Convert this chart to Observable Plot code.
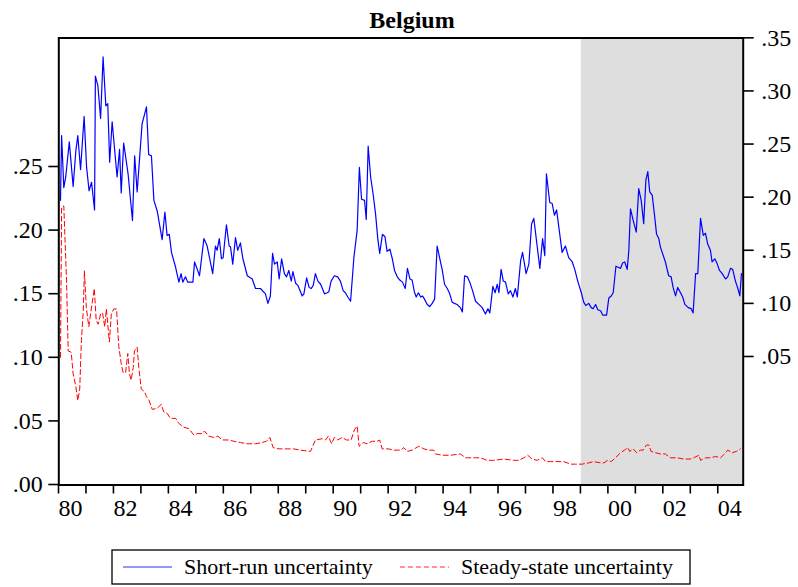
<!DOCTYPE html>
<html><head><meta charset="utf-8">
<script src="https://cdn.jsdelivr.net/npm/d3@7"></script>
<script src="https://cdn.jsdelivr.net/npm/@observablehq/plot@0.6"></script>
<style>
html,body{margin:0;padding:0;background:#fff;}
#wrap{position:relative;width:798px;height:587px;font-family:"Liberation Serif","Times New Roman",serif;}
#chart{position:absolute;left:0;top:0;}
#legend{position:absolute;left:0;top:540px;}
#chart svg text{font-family:"Liberation Serif","Times New Roman",serif !important;font-variant:normal !important;font-variant-numeric:normal !important;}
</style></head><body>
<div id="wrap"><div id="chart"></div>
<svg id="legend" width="798" height="47" font-family="Liberation Serif, Times New Roman, serif">
  <rect x="112" y="10" width="578" height="34" fill="none" stroke="#000" stroke-width="1.3"></rect>
  <line x1="123" x2="172" y1="27" y2="27" stroke="#0000ff" stroke-opacity="0.55" stroke-width="1.6"></line>
  <text x="184" y="34" font-size="22" fill="#000">Short-run uncertainty</text>
  <line x1="400" x2="449" y1="27" y2="27" stroke="#ff0000" stroke-opacity="0.55" stroke-width="1.6" stroke-dasharray="5,3"></line>
  <text x="461" y="34" font-size="22" fill="#000">Steady-state uncertainty</text>
</svg>
</div>
<script>
// ---- Data ----
const title = "Belgium";
const shortRunYears = [1980.00,1980.04,1980.12,1980.19,1980.32,1980.46,1980.56,1980.63,1980.73,1980.86,1980.95,1981.04,1981.13,1981.24,1981.27,1981.36,1981.46,1981.55,1981.65,1981.72,1981.79,1981.88,1982.06,1982.15,1982.21,1982.30,1982.46,1982.62,1982.70,1982.79,1982.97,1983.13,1983.21,1983.31,1983.40,1983.52,1983.70,1983.80,1983.88,1983.96,1984.04,1984.19,1984.31,1984.39,1984.45,1984.55,1984.63,1984.82,1984.88,1984.98,1985.06,1985.22,1985.34,1985.54,1985.64,1985.70,1985.78,1985.86,1985.92,1986.04,1986.14,1986.19,1986.27,1986.37,1986.45,1986.55,1986.64,1986.80,1986.98,1987.10,1987.28,1987.46,1987.55,1987.64,1987.72,1987.79,1987.89,1987.96,1988.05,1988.15,1988.23,1988.31,1988.40,1988.46,1988.56,1988.64,1988.80,1988.86,1988.96,1989.05,1989.13,1989.20,1989.28,1989.37,1989.47,1989.61,1989.71,1989.77,1989.85,1989.97,1990.09,1990.19,1990.29,1990.37,1990.46,1990.56,1990.68,1990.80,1990.88,1990.96,1991.07,1991.13,1991.20,1991.29,1991.38,1991.47,1991.55,1991.62,1991.72,1991.81,1991.89,1991.99,1992.08,1992.16,1992.26,1992.35,1992.45,1992.55,1992.63,1992.72,1992.80,1992.88,1992.95,1993.03,1993.11,1993.18,1993.25,1993.35,1993.44,1993.53,1993.62,1993.71,1993.81,1993.90,1993.98,1994.08,1994.17,1994.26,1994.34,1994.44,1994.51,1994.56,1994.63,1994.71,1994.81,1994.90,1995.00,1995.11,1995.23,1995.35,1995.47,1995.56,1995.63,1995.74,1995.82,1995.90,1995.96,1996.04,1996.12,1996.20,1996.30,1996.38,1996.47,1996.56,1996.63,1996.75,1996.82,1996.95,1997.05,1997.15,1997.23,1997.45,1997.55,1997.63,1997.69,1997.81,1997.90,1997.98,1998.06,1998.14,1998.26,1998.38,1998.50,1998.63,1998.72,1998.83,1998.96,1999.05,1999.12,1999.23,1999.32,1999.39,1999.48,1999.56,1999.66,1999.74,1999.88,1999.96,2000.05,2000.12,2000.22,2000.30,2000.39,2000.46,2000.54,2000.63,2000.69,2000.75,2000.85,2000.96,2001.05,2001.14,2001.23,2001.31,2001.38,2001.45,2001.54,2001.62,2001.70,2001.78,2001.84,2002.02,2002.14,2002.23,2002.30,2002.39,2002.47,2002.57,2002.65,2002.73,2002.85,2002.96,2003.03,2003.12,2003.20,2003.30,2003.40,2003.48,2003.56,2003.66,2003.72,2003.82,2003.91,2003.99,2004.09,2004.21,2004.29,2004.39,2004.47,2004.57,2004.66,2004.73,2004.79];
const shortRunValues = [.197,.258,.209,.219,.252,.210,.244,.258,.226,.276,.228,.206,.214,.188,.314,.305,.274,.332,.286,.288,.233,.271,.219,.245,.204,.251,.222,.178,.239,.205,.269,.285,.240,.239,.197,.187,.160,.186,.164,.165,.148,.134,.120,.128,.120,.125,.120,.120,.139,.132,.126,.161,.154,.128,.154,.150,.161,.142,.143,.174,.154,.153,.137,.162,.150,.157,.142,.126,.123,.114,.114,.109,.100,.107,.147,.137,.139,.123,.142,.128,.125,.131,.121,.130,.119,.117,.107,.109,.124,.115,.114,.117,.128,.121,.118,.109,.110,.111,.121,.126,.125,.121,.112,.110,.106,.102,.143,.169,.228,.198,.197,.179,.248,.219,.203,.184,.161,.147,.165,.163,.149,.151,.142,.131,.125,.122,.120,.114,.133,.123,.122,.111,.106,.110,.106,.107,.104,.099,.097,.100,.104,.154,.142,.131,.118,.114,.109,.101,.100,.099,.097,.096,.092,.126,.125,.120,.112,.102,.099,.096,.090,.095,.091,.116,.110,.118,.110,.132,.121,.120,.109,.112,.106,.114,.106,.140,.148,.128,.137,.175,.180,.133,.161,.145,.222,.195,.194,.183,.188,.172,.148,.154,.143,.139,.132,.121,.110,.101,.098,.100,.096,.095,.099,.094,.093,.089,.089,.105,.107,.110,.135,.134,.133,.138,.139,.132,.150,.189,.178,.167,.208,.197,.175,.216,.224,.205,.202,.184,.165,.161,.153,.139,.126,.125,.115,.107,.115,.110,.106,.099,.096,.095,.091,.128,.128,.180,.164,.166,.156,.150,.139,.142,.137,.131,.128,.123,.125,.133,.132,.121,.114,.107,.128];
const steadyYears = [1980.00,1980.04,1980.12,1980.22,1980.28,1980.39,1980.46,1980.55,1980.63,1980.70,1980.76,1980.83,1980.87,1980.94,1981.03,1981.12,1981.23,1981.30,1981.37,1981.46,1981.53,1981.61,1981.67,1981.72,1981.78,1981.85,1981.94,1982.04,1982.12,1982.21,1982.28,1982.37,1982.45,1982.51,1982.57,1982.65,1982.69,1982.79,1982.85,1982.94,1983.06,1983.13,1983.21,1983.34,1983.52,1983.67,1983.76,1983.88,1984.00,1984.19,1984.31,1984.49,1984.67,1984.85,1984.98,1985.16,1985.24,1985.40,1985.58,1985.73,1985.89,1986.13,1986.31,1986.55,1986.80,1987.10,1987.34,1987.50,1987.62,1987.74,1987.95,1988.25,1988.49,1988.74,1989.10,1989.28,1989.53,1989.65,1989.75,1989.87,1989.97,1990.09,1990.25,1990.41,1990.58,1990.70,1990.80,1990.87,1991.02,1991.16,1991.35,1991.53,1991.62,1991.71,1991.95,1992.13,1992.38,1992.50,1992.62,1992.80,1993.04,1993.23,1993.41,1993.59,1993.65,1993.90,1994.20,1994.56,1994.74,1995.05,1995.29,1995.53,1995.77,1996.14,1996.50,1996.68,1996.87,1997.01,1997.17,1997.35,1997.54,1997.66,1997.84,1998.08,1998.32,1998.57,1998.75,1998.99,1999.23,1999.41,1999.66,1999.78,1999.92,2000.05,2000.20,2000.39,2000.53,2000.65,2000.72,2000.85,2000.97,2001.11,2001.21,2001.33,2001.42,2001.50,2001.66,2001.84,2002.02,2002.20,2002.45,2002.69,2002.93,2003.05,2003.24,2003.30,2003.48,2003.66,2003.85,2004.03,2004.17,2004.29,2004.45,2004.61,2004.75];
const steadyValues = [.100,.218,.219,.160,.105,.104,.087,.078,.066,.075,.113,.137,.168,.139,.124,.138,.154,.129,.126,.134,.135,.124,.138,.126,.112,.134,.138,.138,.109,.095,.088,.088,.103,.087,.082,.092,.105,.108,.092,.075,.073,.069,.067,.059,.060,.063,.057,.056,.052,.052,.048,.045,.044,.039,.040,.040,.042,.038,.037,.038,.035,.035,.034,.033,.032,.032,.033,.034,.037,.029,.028,.028,.028,.027,.026,.035,.036,.035,.038,.032,.037,.035,.037,.035,.035,.043,.046,.030,.033,.032,.034,.034,.035,.028,.028,.027,.027,.029,.026,.027,.030,.028,.027,.027,.024,.023,.023,.024,.021,.021,.021,.019,.019,.020,.019,.019,.021,.023,.020,.019,.021,.018,.018,.018,.018,.016,.016,.016,.017,.018,.017,.017,.019,.018,.021,.025,.027,.029,.026,.028,.025,.027,.027,.031,.031,.026,.025,.024,.024,.021,.021,.020,.020,.021,.023,.019,.021,.021,.022,.021,.024,.027,.025,.026,.028];
const shadeStart = 1998.96;
const xStart = 1979.938, xEnd = 2004.853;
const tickYears = d3.range(1980, 2005);
const leftTicks = [0, .05, .10, .15, .20, .25];
const rightTicks = [.05, .10, .15, .20, .25, .30, .35];

// ---- Dual-axis mapping (right axis values -> left scale units) ----
const toLeft = r => (484 - (409.1 - 1062.2 * r)) / 1272;
const fromLeft = l => (409.1 - (484 - 1272 * l)) / 1062.2;
const yLo = (484 - 484.5) / 1272, yHi = (484 - 37.5) / 1272;
const fmt = v => d3.format(".2f")(Math.abs(v) < 1e-6 ? 0 : v).replace(/^0/, "");

const shortRun = shortRunYears.map((t, i) => ({t, y: toLeft(shortRunValues[i])}));
const steady = steadyYears.map((t, i) => ({t, y: steadyValues[i]}));
const shade = [{x1: shadeStart, x2: xEnd, y1: yLo, y2: yHi}];

const serif = "Liberation Serif, Times New Roman, serif";
const W = 798, H = 540;
const chart = Plot.plot({
  width: W, height: H,
  marginLeft: 58.3, marginRight: W - 742.7, marginTop: 37.5, marginBottom: H - 484.5,
  style: {fontFamily: serif, fontSize: "22px", color: "#000", background: "#fff"},
  x: {domain: [xStart, xEnd], label: null},
  y: {domain: [yLo, yHi], label: null},
  marks: [
    Plot.rect(shade, {x1: "x1", x2: "x2", y1: "y1", y2: "y2", fill: "#dedede"}),
    Plot.line(shortRun, {x: "t", y: "y", stroke: "#0000ff", strokeWidth: 1.2}),
    Plot.line(steady, {x: "t", y: "y", stroke: "#ff0000", strokeWidth: 1, strokeDasharray: "5,3"}),
    Plot.frame({stroke: "#000", strokeWidth: 2}),
    Plot.axisX(tickYears, {anchor: "bottom", tickSize: 9, tickPadding: 5, textAnchor: "start", dx: -2, fontSize: 24, fontFamily: serif, strokeWidth: 1.6, label: null,
      tickFormat: d => d % 2 === 0 ? String(d).slice(2) : ""}),
    Plot.axisY(leftTicks, {anchor: "left", tickSize: 10, tickPadding: 6, fontSize: 24, fontFamily: serif, strokeWidth: 1.6, label: null, tickFormat: fmt}),
    Plot.axisY(rightTicks.map(toLeft), {anchor: "right", tickSize: 10, tickPadding: 8, fontSize: 24, fontFamily: serif, strokeWidth: 1.6, label: null,
      tickFormat: d => fmt(fromLeft(d))}),
    Plot.text([title], {text: d => d, frameAnchor: "top", dx: 11, dy: -17.2, lineAnchor: "middle", fontSize: 24, fontWeight: "bold", fontFamily: serif})
  ]
});
document.getElementById("chart").appendChild(chart);
</script>
</body></html>
